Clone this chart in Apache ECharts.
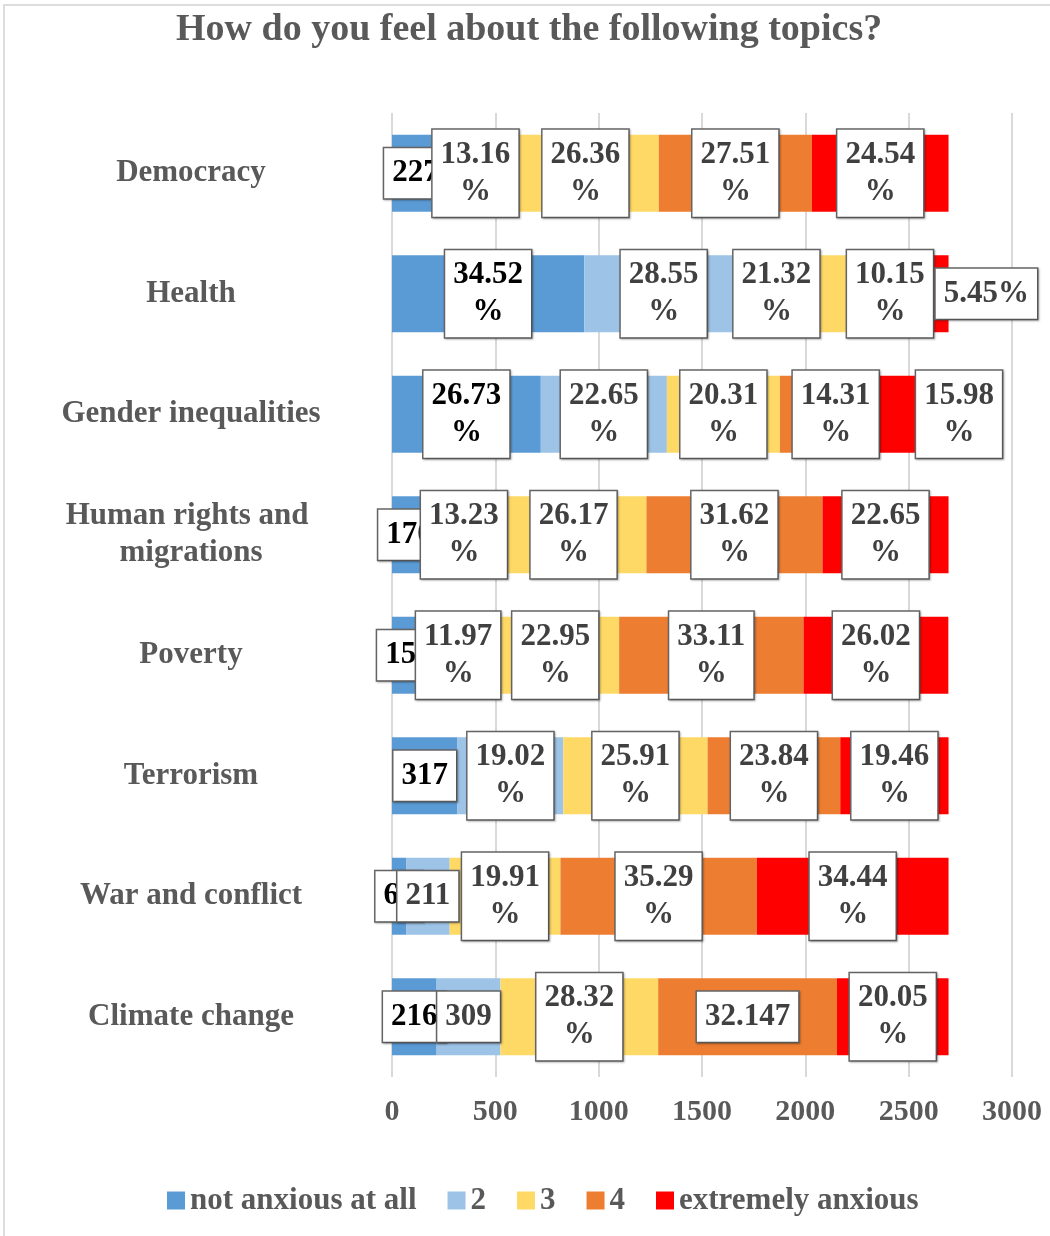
<!DOCTYPE html>
<html>
<head>
<meta charset="utf-8">
<script src="https://cdn.jsdelivr.net/npm/echarts@6/dist/echarts.min.js"></script>
<style>
html,body{margin:0;padding:0;background:#fff;}
#chart{width:1050px;height:1236px;}
</style>
</head>
<body>
<div id="chart"></div>
<script>
// ---- Data ----
const categories = ['Democracy', 'Health', 'Gender inequalities', 'Human rights and migrations', 'Poverty', 'Terrorism', 'War and conflict', 'Climate change'];
const seriesNames = ['not anxious at all', '2', '3', '4', 'extremely anxious'];

const notAnxious = [227, 930, 720, 170, 159, 317, 68, 216];
const level2     = [354, 769, 610, 356, 322, 512, 211, 309];
const level3     = [710, 574, 547, 705, 618, 698, 536, 763];
const level4     = [741, 273, 385, 852, 892, 642, 950, 865];
const extreme    = [661, 147, 431, 610, 701, 524, 928, 540];

const notAnxiousLabels = ['227', '34.52\n%', '26.73\n%', '170', '159', '317', '68', '216'];
const level2Labels     = ['13.16\n%', '28.55\n%', '22.65\n%', '13.23\n%', '11.97\n%', '19.02\n%', '211', '309'];
const level3Labels     = ['26.36\n%', '21.32\n%', '20.31\n%', '26.17\n%', '22.95\n%', '25.91\n%', '19.91\n%', '28.32\n%'];
const level4Labels     = ['27.51\n%', '10.15\n%', '14.31\n%', '31.62\n%', '33.11\n%', '23.84\n%', '35.29\n%', '32.147'];
const extremeLabels    = ['24.54\n%', '5.45%', '15.98\n%', '22.65\n%', '26.02\n%', '19.46\n%', '34.44\n%', '20.05\n%'];

const xTicks = { min: 0, max: 3000, interval: 500 };

// ---- Styles ----
const FONT = '"Liberation Serif", "Times New Roman", serif';
const GREY = '#595959';
const colors = ['#5B9BD5', '#9DC3E6', '#FFD966', '#ED7D31', '#FF0000'];
const labelColors = ['#000000', '#404040', '#404040', '#404040', '#404040'];
// manually moved labels (series index -> category index -> [dx, dy])
const labelMoves = { 2: { 1: [-26, 0] }, 3: { 2: [16, 0] }, 4: { 1: [53, 0], 2: [55, 0] } };

const values = [notAnxious, level2, level3, level4, extreme];
const labels = [notAnxiousLabels, level2Labels, level3Labels, level4Labels, extremeLabels];

const series = seriesNames.map((name, s) => ({
  name: name,
  type: 'bar',
  stack: 'total',
  barWidth: 77,
  itemStyle: { color: colors[s] },
  label: {
    show: true,
    position: 'inside',
    fontFamily: FONT,
    fontSize: 31,
    fontWeight: 'bold',
    lineHeight: 37,
    color: labelColors[s],
    backgroundColor: '#ffffff',
    borderColor: '#666666',
    borderWidth: 1.5,
    padding: [8, 8, 5, 8],
    shadowColor: 'rgba(0,0,0,0.25)',
    shadowBlur: 2,
    shadowOffsetX: 1,
    shadowOffsetY: 1,
    formatter: p => labels[s][p.dataIndex]
  },
  data: values[s].map((v, i) => {
    const item = { value: v };
    if (labelMoves[s] && labelMoves[s][i]) item.label = { offset: labelMoves[s][i] };
    return item;
  })
}));

const chart = echarts.init(document.getElementById('chart'), null, { renderer: 'canvas' });
chart.setOption({
  animation: false,
  backgroundColor: '#ffffff',
  graphic: [{
    type: 'rect', silent: true, z: -10,
    shape: { x: 4, y: 5, width: 1100, height: 1300 },
    style: { fill: 'none', stroke: '#dddddd', lineWidth: 2 }
  }],
  title: {
    text: 'How do you feel about the following topics?',
    left: 171, top: 6,
    textStyle: { fontFamily: FONT, fontSize: 38, fontWeight: 'bold', color: GREY }
  },
  legend: {
    data: seriesNames,
    left: 162, top: 1180,
    icon: 'rect', itemWidth: 18, itemHeight: 18, itemGap: 31,
    textStyle: { fontFamily: FONT, fontSize: 31, fontWeight: 'bold', color: GREY }
  },
  grid: { left: 392, right: 38, top: 113, bottom: 159, containLabel: false },
  xAxis: {
    type: 'value', min: xTicks.min, max: xTicks.max, interval: xTicks.interval,
    axisLine: { show: false }, axisTick: { show: false },
    splitLine: { show: true, lineStyle: { color: '#d9d9d9', width: 2 } },
    axisLabel: {
      fontFamily: FONT, fontSize: 30, fontWeight: 'bold', color: GREY, margin: 20,
      formatter: v => String(v)
    }
  },
  yAxis: {
    type: 'category', data: categories, inverse: true,
    axisLine: { show: false }, axisTick: { show: false },
    axisLabel: {
      fontFamily: FONT, fontSize: 31, fontWeight: 'bold', color: GREY,
      align: 'center', margin: 201, width: 280, overflow: 'break', lineHeight: 37,
      padding: [5, 0, 0, 0]
    }
  },
  series: series
});
</script>
</body>
</html>
